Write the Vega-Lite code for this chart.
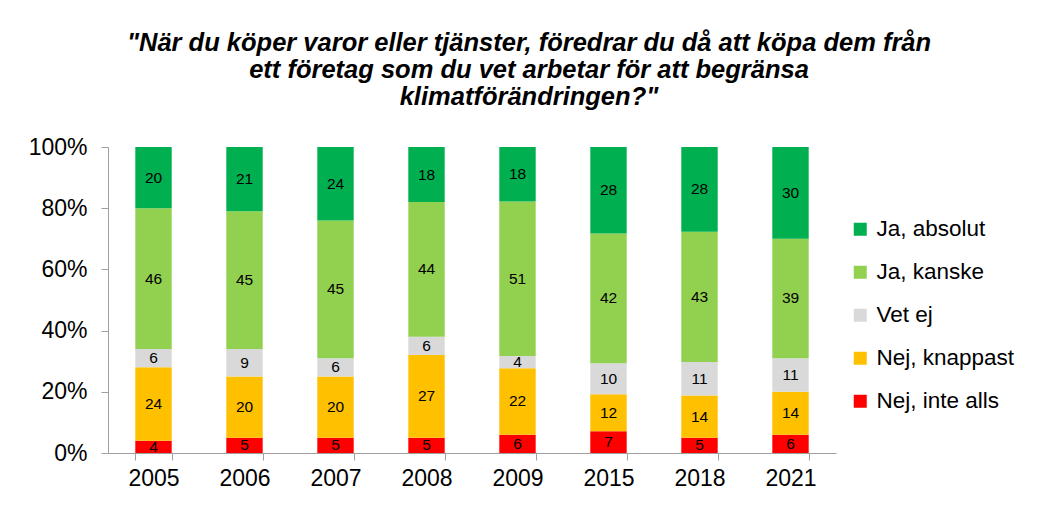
{
  "$schema": "https://vega.github.io/schema/vega-lite/v6.json",
  "width": 728,
  "height": 306,
  "autosize": {"type": "none"},
  "padding": {"left": 108, "top": 147, "right": 203, "bottom": 53},
  "background": "white",
  "title": {
    "text": ["\"När du köper varor eller tjänster, föredrar du då att köpa dem från", "ett företag som du vet arbetar för att begränsa", "klimatförändringen?\""],
    "font": "Liberation Sans",
    "fontSize": 25.5,
    "fontWeight": "bold",
    "fontStyle": "italic",
    "color": "black",
    "anchor": "middle",
    "dx": 57,
    "lineHeight": 27,
    "offset": 26
  },
  "data": {
    "values": [
      {"year": "2005", "cat": "Nej, inte alls", "o": 1, "v": 4},
      {"year": "2005", "cat": "Nej, knappast", "o": 2, "v": 24},
      {"year": "2005", "cat": "Vet ej", "o": 3, "v": 6},
      {"year": "2005", "cat": "Ja, kanske", "o": 4, "v": 46},
      {"year": "2005", "cat": "Ja, absolut", "o": 5, "v": 20},
      {"year": "2006", "cat": "Nej, inte alls", "o": 1, "v": 5},
      {"year": "2006", "cat": "Nej, knappast", "o": 2, "v": 20},
      {"year": "2006", "cat": "Vet ej", "o": 3, "v": 9},
      {"year": "2006", "cat": "Ja, kanske", "o": 4, "v": 45},
      {"year": "2006", "cat": "Ja, absolut", "o": 5, "v": 21},
      {"year": "2007", "cat": "Nej, inte alls", "o": 1, "v": 5},
      {"year": "2007", "cat": "Nej, knappast", "o": 2, "v": 20},
      {"year": "2007", "cat": "Vet ej", "o": 3, "v": 6},
      {"year": "2007", "cat": "Ja, kanske", "o": 4, "v": 45},
      {"year": "2007", "cat": "Ja, absolut", "o": 5, "v": 24},
      {"year": "2008", "cat": "Nej, inte alls", "o": 1, "v": 5},
      {"year": "2008", "cat": "Nej, knappast", "o": 2, "v": 27},
      {"year": "2008", "cat": "Vet ej", "o": 3, "v": 6},
      {"year": "2008", "cat": "Ja, kanske", "o": 4, "v": 44},
      {"year": "2008", "cat": "Ja, absolut", "o": 5, "v": 18},
      {"year": "2009", "cat": "Nej, inte alls", "o": 1, "v": 6},
      {"year": "2009", "cat": "Nej, knappast", "o": 2, "v": 22},
      {"year": "2009", "cat": "Vet ej", "o": 3, "v": 4},
      {"year": "2009", "cat": "Ja, kanske", "o": 4, "v": 51},
      {"year": "2009", "cat": "Ja, absolut", "o": 5, "v": 18},
      {"year": "2015", "cat": "Nej, inte alls", "o": 1, "v": 7},
      {"year": "2015", "cat": "Nej, knappast", "o": 2, "v": 12},
      {"year": "2015", "cat": "Vet ej", "o": 3, "v": 10},
      {"year": "2015", "cat": "Ja, kanske", "o": 4, "v": 42},
      {"year": "2015", "cat": "Ja, absolut", "o": 5, "v": 28},
      {"year": "2018", "cat": "Nej, inte alls", "o": 1, "v": 5},
      {"year": "2018", "cat": "Nej, knappast", "o": 2, "v": 14},
      {"year": "2018", "cat": "Vet ej", "o": 3, "v": 11},
      {"year": "2018", "cat": "Ja, kanske", "o": 4, "v": 43},
      {"year": "2018", "cat": "Ja, absolut", "o": 5, "v": 28},
      {"year": "2021", "cat": "Nej, inte alls", "o": 1, "v": 6},
      {"year": "2021", "cat": "Nej, knappast", "o": 2, "v": 14},
      {"year": "2021", "cat": "Vet ej", "o": 3, "v": 11},
      {"year": "2021", "cat": "Ja, kanske", "o": 4, "v": 39},
      {"year": "2021", "cat": "Ja, absolut", "o": 5, "v": 30}
    ]
  },
  "transform": [
    {"stack": "v", "groupby": ["year"], "sort": [{"field": "o", "order": "ascending"}], "offset": "normalize", "as": ["y0", "y1"]},
    {"calculate": "(datum.y0 + datum.y1) / 2", "as": "ymid"}
  ],
  "encoding": {
    "x": {
      "field": "year",
      "type": "ordinal",
      "scale": {"paddingInner": 0.6, "paddingOuter": 0.3},
      "axis": {
        "title": null,
        "labelAngle": 0,
        "labelFont": "Liberation Sans",
        "labelFontSize": 23,
        "labelColor": "black",
        "labelPadding": 7,
        "domainColor": "#a0a0a0",
        "tickColor": "#a0a0a0",
        "tickSize": 7,
        "tickBand": "extent"
      }
    }
  },
  "layer": [
    {
      "mark": {"type": "bar"},
      "encoding": {
        "y": {
          "field": "y0",
          "type": "quantitative",
          "scale": {"domain": [0, 1]},
          "axis": {
            "title": null,
            "values": [0, 0.2, 0.4, 0.6, 0.8, 1],
            "format": ".0%",
            "grid": false,
            "labelFont": "Liberation Sans",
            "labelFontSize": 23,
            "labelColor": "black",
            "labelPadding": 14,
            "domainColor": "#a0a0a0",
            "tickColor": "#a0a0a0",
            "tickSize": 7
          }
        },
        "y2": {"field": "y1"},
        "color": {
          "field": "cat",
          "type": "nominal",
          "scale": {
            "domain": ["Ja, absolut", "Ja, kanske", "Vet ej", "Nej, knappast", "Nej, inte alls"],
            "range": ["#00B050", "#92D050", "#D9D9D9", "#FFC000", "#FF0000"]
          },
          "legend": {
            "title": null,
            "orient": "none",
            "legendX": 741,
            "legendY": 71,
            "symbolType": "square",
            "symbolSize": 169,
            "symbolStrokeWidth": 0,
            "labelFont": "Liberation Sans",
            "labelFontSize": 22.5,
            "labelColor": "black",
            "labelOffset": 5,
            "rowPadding": 20
          }
        }
      }
    },
    {
      "mark": {"type": "text", "font": "Liberation Sans", "fontSize": 15.5, "color": "black", "baseline": "middle"},
      "encoding": {
        "y": {"field": "ymid", "type": "quantitative"},
        "text": {"field": "v", "type": "quantitative"}
      }
    }
  ],
  "config": {"view": {"stroke": null}}
}
